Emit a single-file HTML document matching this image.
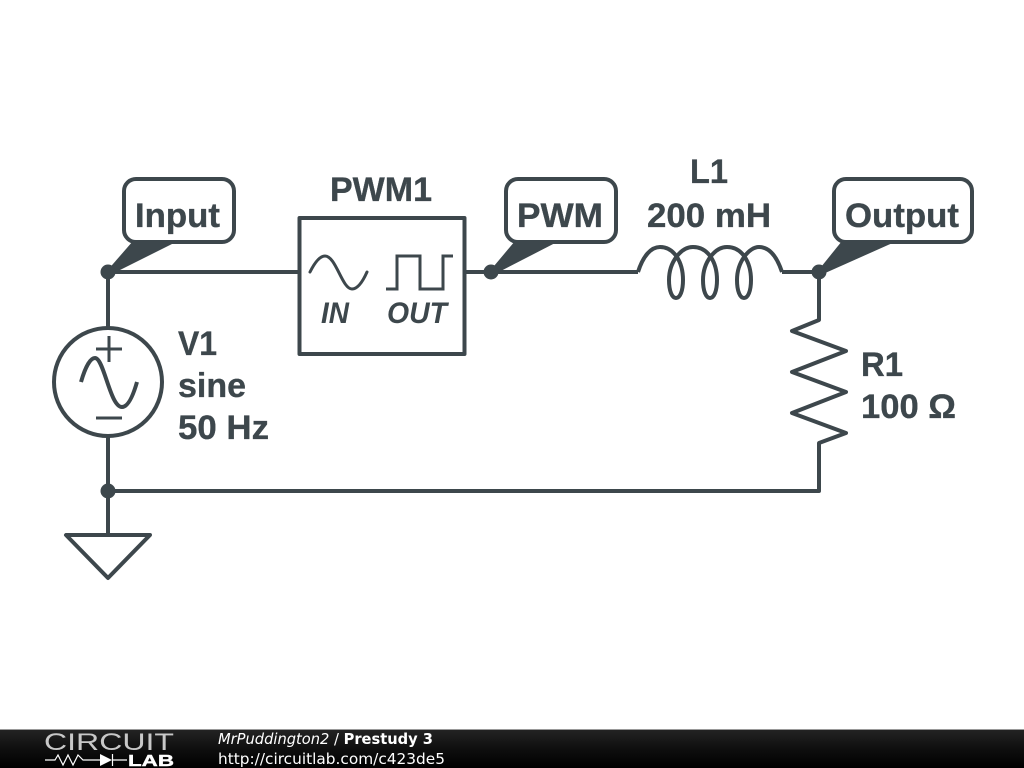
<!DOCTYPE html>
<html>
<head>
<meta charset="utf-8">
<title>Prestudy 3</title>
<style>
html,body{margin:0;padding:0;background:#fff;width:1024px;height:768px;overflow:hidden}
svg{display:block}
.t{font-family:"Liberation Sans",sans-serif;font-weight:bold;font-size:34.5px;fill:#3d474c;stroke:#3d474c;stroke-width:.35}
.w{fill:none;stroke:#3d474c;stroke-width:4;stroke-linejoin:round;stroke-linecap:butt}
.f{font-family:"DejaVu Sans",sans-serif;font-size:15px;fill:#fff}
</style>
</head>
<body>
<svg width="1024" height="768" viewBox="0 0 1024 768" xmlns="http://www.w3.org/2000/svg">
<defs>
<linearGradient id="g" x1="0" y1="0" x2="0" y2="1"><stop offset="0" stop-color="#242424"/><stop offset=".5" stop-color="#0f0f0f"/><stop offset="1" stop-color="#000"/></linearGradient>
</defs>
<rect width="1024" height="768" fill="#fff"/>

<!-- wires -->
<path class="w" d="M108 272V327M108 437V535M108 272H299M464 272H638M782 272H819V320L792 331L846 351L792 372L846 392L792 413L846 433L819 443V491H108"/>

<!-- inductor -->
<path class="w" d="M638 272C643 256 651 247 660 247C674 247 683 262 683 280C683 291 680 298 676 298C672 298 669 291 669 280C669 262 681 247 693 247C708 247 717 262 717 280C717 291 714 298 710 298C706 298 703 291 703 280C703 262 715 247 727 247C742 247 751 262 751 280C751 291 748 298 744 298C740 298 737 291 737 280C737 262 749 247 759 247C770 247 777 257 782 272"/>

<!-- source -->
<circle class="w" cx="108" cy="382" r="54"/>
<path class="w" stroke-linecap="round" d="M81 382C85 368 90 358 95 358C104 358 110 407 122 407C128 407 133 396 137 382"/>
<path fill="none" stroke="#3d474c" stroke-width="3" d="M96 349H122M109 336V362M96 418H122"/>

<!-- ground -->
<path class="w" d="M66 535H150L108 578Z"/>

<!-- PWM block -->
<rect class="w" x="299.5" y="218" width="165" height="136" fill="#fff"/>
<path fill="none" stroke="#3d474c" stroke-width="3" stroke-linecap="round" d="M310 272C315 262 320 256 325 256C336 256 342 289 352 289C358 289 363 281 367 272"/>
<path fill="none" stroke="#3d474c" stroke-width="3" d="M386 289H397V256H420V289H443V256H453"/>
<text class="t" x="321" y="323" textLength="28" lengthAdjust="spacingAndGlyphs" style="font-size:30px;font-style:italic;stroke-width:0">IN</text>
<text class="t" x="387" y="323" textLength="60" lengthAdjust="spacingAndGlyphs" style="font-size:30px;font-style:italic;stroke-width:0">OUT</text>

<!-- callouts -->
<rect class="w" x="124" y="179" width="110" height="63" rx="12" fill="#fff"/>
<path fill="#3d474c" d="M106 272L133 241H178L112 274Z"/>
<rect class="w" x="506" y="179" width="110" height="63" rx="12" fill="#fff"/>
<path fill="#3d474c" d="M489 272L515 241H559L495 274Z"/>
<rect class="w" x="834" y="179" width="138" height="63" rx="12" fill="#fff"/>
<path fill="#3d474c" d="M817 272L842 241H897L823 274Z"/>

<!-- junctions -->
<circle cx="108" cy="272" r="7.5" fill="#3d474c"/>
<circle cx="491" cy="272" r="7.5" fill="#3d474c"/>
<circle cx="819" cy="272" r="7.5" fill="#3d474c"/>
<circle cx="108" cy="491" r="7.5" fill="#3d474c"/>

<!-- labels -->
<text class="t" x="135" y="227" textLength="85" lengthAdjust="spacingAndGlyphs">Input</text>
<text class="t" x="330" y="201" textLength="102" lengthAdjust="spacingAndGlyphs">PWM1</text>
<text class="t" x="517" y="227" textLength="86" lengthAdjust="spacingAndGlyphs">PWM</text>
<text class="t" x="690" y="183" textLength="38" lengthAdjust="spacingAndGlyphs">L1</text>
<text class="t" x="647" y="227" textLength="124" lengthAdjust="spacingAndGlyphs">200 mH</text>
<text class="t" x="845" y="227" textLength="114" lengthAdjust="spacingAndGlyphs">Output</text>
<text class="t" x="178" y="355" textLength="39" lengthAdjust="spacingAndGlyphs">V1</text>
<text class="t" x="178" y="397" textLength="68" lengthAdjust="spacingAndGlyphs">sine</text>
<text class="t" x="178" y="439" textLength="91" lengthAdjust="spacingAndGlyphs">50 Hz</text>
<text class="t" x="861" y="376" textLength="42" lengthAdjust="spacingAndGlyphs">R1</text>
<text class="t" x="861" y="418" textLength="95" lengthAdjust="spacingAndGlyphs">100 Ω</text>

<!-- footer -->
<rect x="0" y="729" width="1024" height="39" fill="url(#g)"/>
<rect x="0" y="729" width="1024" height="1" fill="#999"/>
<text x="44" y="750" textLength="130" lengthAdjust="spacingAndGlyphs" style="font-family:'Liberation Sans',sans-serif;font-size:24px;fill:#c8c8c8">CIRCUIT</text>
<path fill="none" stroke="#fff" stroke-width="1.2" d="M45 760H55L58 755L63 765L68 755L73 765L78 755L83 760H100M113 760H127M112.500 754V766"/>
<path fill="#fff" d="M100 754L112 760L100 766Z"/>
<text x="128" y="766" textLength="46" lengthAdjust="spacingAndGlyphs" style="font-family:'Liberation Sans',sans-serif;font-weight:bold;font-size:16px;fill:#fff;stroke:#fff;stroke-width:.4">LAB</text>
<text class="f" x="218" y="744" textLength="215" lengthAdjust="spacingAndGlyphs"><tspan font-style="italic">MrPuddington2</tspan> / <tspan font-weight="bold">Prestudy 3</tspan></text>
<text class="f" x="218" y="764" textLength="227" lengthAdjust="spacingAndGlyphs">http://circuitlab.com/c423de5</text>
</svg>
</body>
</html>
